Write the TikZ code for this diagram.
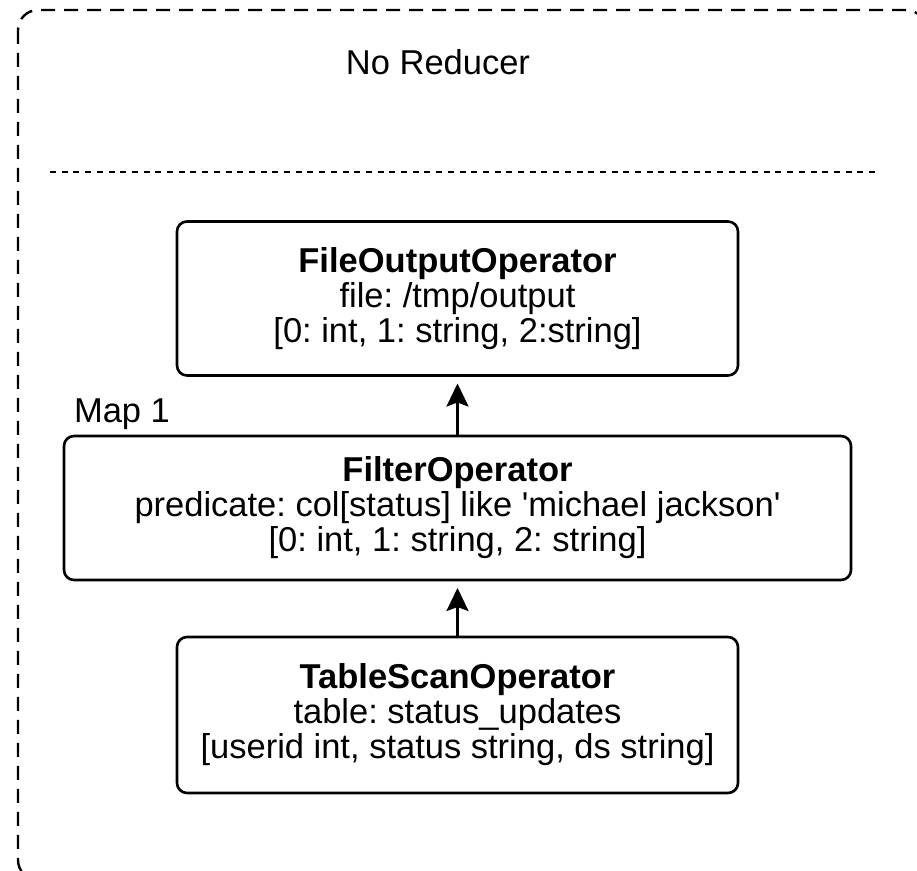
\documentclass[tikz,border=0pt]{standalone}
\usepackage{fontspec}
\setmainfont{Liberation Sans}
\usetikzlibrary{arrows.meta}

\begin{document}
\frenchspacing
\begin{tikzpicture}[
  x=0.5pt, y=-0.5pt,
  font=\fontsize{17.25pt}{17.5pt}\selectfont,
  >={Stealth[length=11.5pt, width=11pt, inset=2pt]},
  op/.style={draw, line width=1.3pt, rounded corners=5pt, align=center,
             inner sep=0pt, outer sep=0pt, minimum height=77pt},
  link/.style={->, line width=1.3pt, shorten >=4pt},
  frame/.style={line width=1.2pt, dash pattern=on 7pt off 4.5pt, rounded corners=10pt},
  split/.style={line width=1pt, dash pattern=on 3pt off 2.85pt}
]
\useasboundingbox (0,0) rectangle (917,871);

% ---------- rangka map (terpotong di kanan dan bawah) ----------
\begin{scope}
  \clip (0,0) rectangle (917,871);
  \draw[frame] (18,10) rectangle (926,880);
\end{scope}

% ---------- judul dan pemisah ----------
\node[anchor=base]      (title) at (438,75)  {No Reducer};
\draw[split] (50,172) -- (875,172);
\node[anchor=base west] (map)   at (67,423)  {Map 1};

% ---------- operator ----------
\node[op, minimum width=280.5pt] (out)    at (457.5,298.5)
  {\textbf{FileOutputOperator}\\ file: /tmp/output\\{}[0: int, 1: string, 2:string]};
\node[op, minimum width=393.5pt, minimum height=72pt] (filter) at (457.5,508)
  {\textbf{FilterOperator}\\ predicate: col[status] like \textquotesingle michael jackson\textquotesingle\\{}[0: int, 1: string, 2: string]};
\node[op, minimum width=280.5pt, minimum height=78pt] (scan)   at (457.5,715)
  {\textbf{TableScanOperator}\\ table: status\_updates\\{}[userid int, status string, ds string]};

% ---------- aliran data ----------
\draw[link] (scan.north)   -- (filter.south);
\draw[link] (filter.north) -- (out.south);

\end{tikzpicture}
\end{document}
